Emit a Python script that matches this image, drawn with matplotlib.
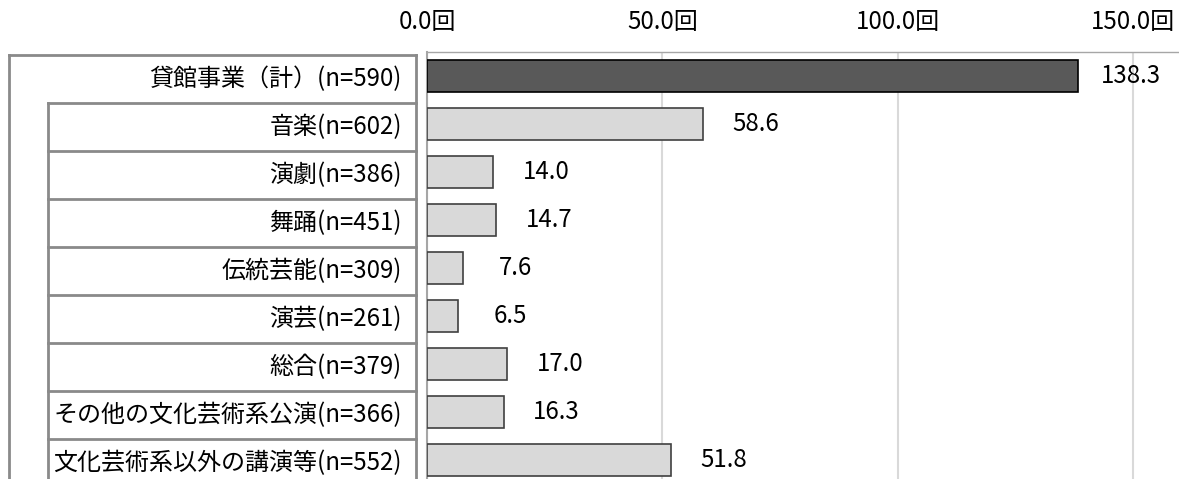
import matplotlib.pyplot as plt

categories = ['貸館事業（計）(n=590)', '音楽(n=602)', '演劇(n=386)', '舞踊(n=451)',
              '伝統芸能(n=309)', '演芸(n=261)', '総合(n=379)',
              'その他の文化芸術系公演(n=366)', '文化芸術系以外の講演等(n=552)']
values = [138.3, 58.6, 14.0, 14.7, 7.6, 6.5, 17.0, 16.3, 51.8]
xticks = [0, 50, 100, 150]

plt.rcParams['font.family'] = ['Noto Sans CJK JP', 'DejaVu Sans']
FS = 17.3

W, H = 1179, 479
fig = plt.figure(figsize=(W / 100, H / 100), dpi=100)

# pixel overlay for the label boxes on the left
bg = fig.add_axes([0, 0, 1, 1])
bg.set_xlim(0, W)
bg.set_ylim(H, 0)
bg.axis('off')

n = len(categories)
box_col, box_lw = '#8a8a8a', 2.0
box_top, box_pitch = 55, 48
bg.plot([9, 9], [box_top, H + 10], color=box_col, lw=box_lw)
bg.plot([9, 416], [box_top, box_top], color=box_col, lw=box_lw)
bg.plot([416, 416], [box_top, H + 10], color=box_col, lw=box_lw)
bg.plot([48, 48], [box_top + box_pitch, H + 10], color=box_col, lw=box_lw)
for k in range(1, n):
    yy = box_top + k * box_pitch
    bg.plot([48, 416], [yy, yy], color=box_col, lw=box_lw)

# bar chart
top, pitch = 52, 48
px_per_unit = 4.707
ax = fig.add_axes([427 / W, 1 - (top + n * pitch) / H, 160 * px_per_unit / W, n * pitch / H])
colors = ['#595959'] + ['#d9d9d9'] * (n - 1)
edges = ['#000000'] + ['#404040'] * (n - 1)
ax.barh(range(n), values, height=0.667, color=colors, edgecolor=edges, linewidth=1.2, zorder=3)
ax.set_ylim(n - 0.5, -0.5)
ax.set_xlim(0, 160)
ax.xaxis.tick_top()
ax.set_xticks(xticks, [f'{v:.1f}回' for v in xticks])
ax.set_yticks(range(n), categories)
ax.tick_params(axis='x', length=0, pad=12, labelsize=FS)
ax.tick_params(axis='y', length=0, pad=18, labelsize=FS)
ax.grid(axis='x', color='#d9d9d9', lw=1.5, zorder=0)
for s in ['right', 'bottom']:
    ax.spines[s].set_visible(False)
ax.spines['top'].set_color('#a6a6a6')
ax.spines['top'].set_linewidth(1.0)
ax.spines['left'].set_color('#a6a6a6')
ax.spines['left'].set_linewidth(1.5)

for i, v in enumerate(values):
    ax.annotate(f'{v:.1f}', (v, i), xytext=(53 * 0.72, 0), textcoords='offset points',
                ha='center', va='center', fontsize=FS)

fig.savefig('out.png', dpi=100)
